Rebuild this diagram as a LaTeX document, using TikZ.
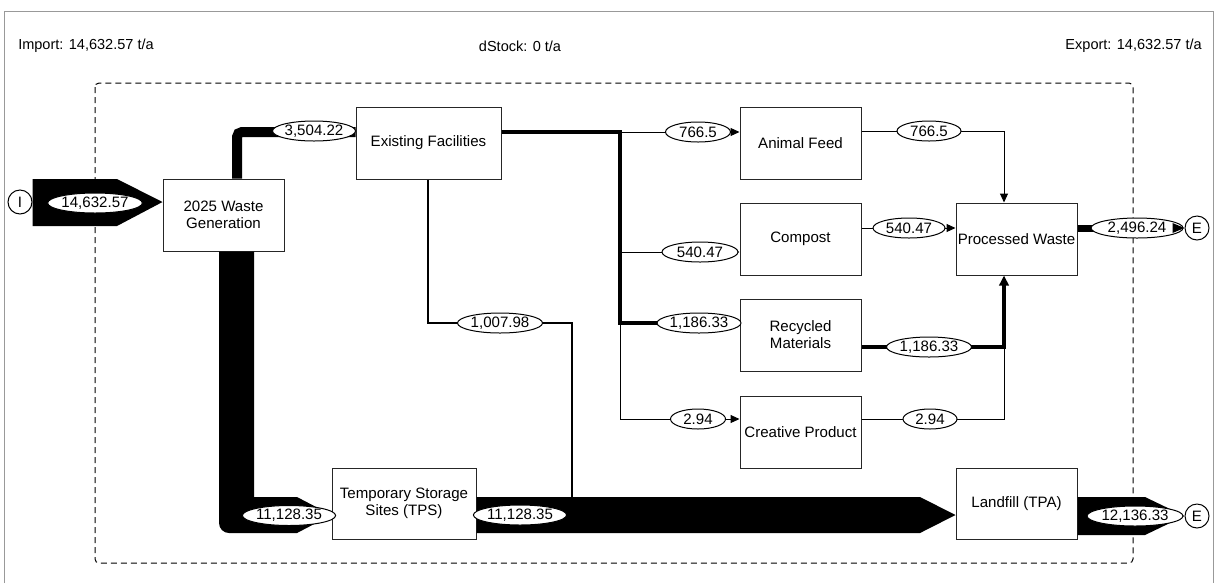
\documentclass[tikz,border=0pt]{standalone}
\usepackage{fontspec}
\setmainfont{Liberation Sans}
\usetikzlibrary{arrows.meta,calc,shapes.geometric}
\begin{document}
\begin{tikzpicture}[x=0.75pt,y=-0.75pt,
  every node/.style={font=\fontsize{11.3pt}{12.75pt}\selectfont},
  box/.style={draw=black!85, line width=0.75pt, fill=white, align=center, inner sep=0pt, minimum width=90.75pt, minimum height=54pt},
  lab/.style={ellipse, draw=black, line width=0.75pt, fill=white, inner sep=0pt, minimum height=15pt, minimum width=#1*0.75pt},
  lab/.default=60,
  io/.style={circle, draw=black, line width=0.75pt, fill=white, inner sep=0pt, minimum size=18pt},
  toptext/.style={inner sep=0pt, font=\fontsize{10.9pt}{12pt}\selectfont},
  flowthin/.style={line width=0.75pt, draw=black},
  flowthick/.style={line width=2.5pt, draw=black},
  flowmid/.style={line width=1.6pt, draw=black},
  ahead/.style={-{Triangle[length=6.75pt,width=6pt]}},
  bighead/.style={-{Triangle[length=7.5pt,width=7pt]}},
]
\useasboundingbox (0,0) rectangle (1219,583);
% outer frame
\draw[black!40, line width=0.75pt] (4,583) -- (4,11) -- (1213,11) -- (1213,583);
% top texts
\node[toptext, anchor=west] (imp) at (18,46) {Import: 14,632.57 t/a};
\node[toptext] (ds) at (520,46) {dStock: 0 t/a};
\node[toptext, anchor=east] (exp) at (1202,46) {Export: 14,632.57 t/a};
% system boundary
\draw[line width=0.75pt, dash pattern=on 4.5pt off 3pt, rounded corners=3pt] (95,83) rectangle (1133,563);

% processes
\node[box] (gen) at (223.5,215) {2025 Waste\\Generation};
\node[box, minimum width=108.75pt] (ef) at (428.5,143) {Existing Facilities};
\node[box] (af) at (800.5,143) {Animal Feed};
\node[box] (comp) at (800.5,239) {Compost};
\node[box] (rec) at (800.5,335) {Recycled\\Materials};
\node[box] (crea) at (800.5,432) {Creative Product};
\node[box] (pw) at (1016.5,239) {Processed Waste};
\node[box, minimum width=108pt, minimum height=53.25pt] (tps) at (404,503.5) {Temporary Storage\\Sites (TPS)};
\node[box, minimum height=53.25pt] (lf) at (1016.5,503.5) {Landfill (TPA)};

\node[io] (I) at (20,202) {I};
\node[io] (E1) at (1197,228) {E};
\node[io] (E2) at (1197,516) {E};

% helper coordinates
\coordinate (impA) at (117,179);
\coordinate (impB) at (117,226);
\coordinate (c1) at (237,132);
\coordinate (bL) at (219,533);
\coordinate (bLr) at (219,523);
\coordinate (bR) at (254,497);
\coordinate (bT) at (297,497);
\coordinate (bB) at (297,533);
\coordinate (yband) at (0,515);
\coordinate (t1) at (920,497);
\coordinate (t2) at (920,533);
\coordinate (u1) at (1145,497);
\coordinate (u2) at (1145,535);
\coordinate (d1) at (428,323);
\coordinate (d2) at (572,323);
\coordinate (s1) at (620,132);
\coordinate (s2) at (620,323);
\coordinate (s3) at (620,252);
\coordinate (s4) at (620,419);
\coordinate (r1) at (1004,131);
\coordinate (r2) at (1004,347);
\coordinate (r3) at (1004,419);
\coordinate (q1) at (909,228);
\coordinate (pwEnd) at (1173,228);

% import band
\fill (I.east |- impA) -- (impA) -- (gen.west |- I) -- (impB) -- (I.east |- impB) -- cycle;
% generation -> existing facilities
\draw[line width=7.5pt, rounded corners=3.75pt] (gen.north -| c1) -- (c1) -- (ef.west |- c1);
% generation -> TPS
\fill (gen.south -| bL) -- (bLr) arc[start angle=180, end angle=270, radius=7.5pt] -- (bB) -- (tps.west |- yband) -- (bT) -- (bR) -- (gen.south -| bR) -- cycle;
% TPS -> landfill
\fill (tps.east |- t1) -- (t1) -- (lf.west |- yband) -- (t2) -- (tps.east |- t2) -- cycle;
% landfill -> export
\fill (lf.east |- u1) -- (u1) -- (E2.west) -- (u2) -- (lf.east |- u2) -- cycle;
% existing facilities -> landfill flow
\draw[flowmid] (ef.south -| d1) -- (d1) -- (d2) -- (d2 |- t1);
% existing facilities -> products
\draw[flowthick] (ef.east |- s1) -- (s1) -- (s2) -- (rec.west |- s2);
\draw[flowthin, ahead] (s1) -- (af.west |- s1);
\draw[flowthin, ahead] (s3) -- (comp.west |- s3);
\draw[flowthin, ahead] (s2) -- (s4) -- (crea.west |- s4);
% products -> processed waste
\draw[flowthin, ahead] (af.east |- r1) -- (r1) -- (pw.north -| r1);
\draw[flowthin, ahead] (comp.east |- q1) -- (pw.west |- q1);
\draw[flowthin] (crea.east |- r3) -- (r3) -- (r2);
\draw[flowthick, bighead] (rec.east |- r2) -- (r2) -- (pw.south -| r2);
% processed -> export
\draw[line width=5.25pt] (pw.east |- q1) -- (pwEnd);

% flow labels
\node[lab=91] (l_in) at (95,203) {14,632.57};
\node[lab=83] (l_ef) at (314,131) {3,504.22};
\node[lab=88] (l_tpsin) at (289,515.5) {11,128.35};
\node[lab=87] (l_tpsout) at (520,515) {11,128.35};
\node[lab=85] (l_1007) at (500,323) {1,007.98};
\node[lab=65] (l_af) at (698,132) {766.5};
\node[lab=76] (l_comp) at (700,252) {540.47};
\node[lab=84] (l_rec) at (699,323) {1,186.33};
\node[lab=55] (l_crea) at (698,419) {2.94};
\node[lab=64] (l_af2) at (929,131) {766.5};
\node[lab=72] (l_comp2) at (909,228) {540.47};
\node[lab=85] (l_rec2) at (929,347) {1,186.33};
\node[lab=54] (l_crea2) at (930,419) {2.94};
\node[lab=92] (l_pw) at (1137,228) {2,496.24};
\node[lab=96] (l_lf) at (1135,516) {12,136.33};
% export arrowhead of processed waste
\fill ($(E1.west)+(-12,-5)$) -- (E1.west) -- ($(E1.west)+(-12,5)$) -- cycle;
\end{tikzpicture}
\end{document}
